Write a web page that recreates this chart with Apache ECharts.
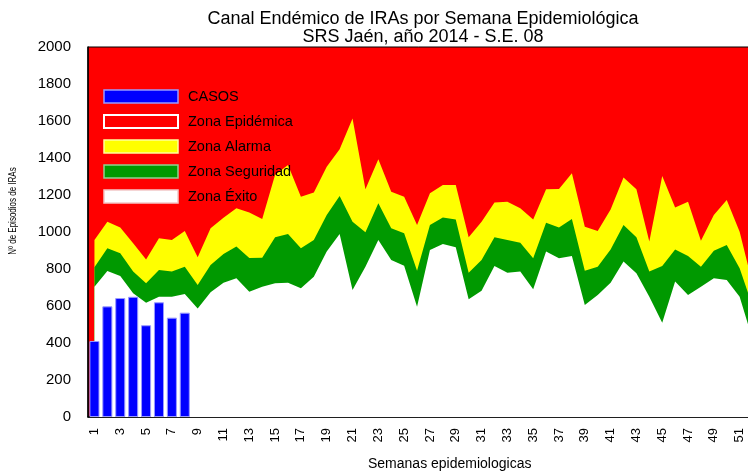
<!DOCTYPE html>
<html lang="es">
<head>
    <meta charset="UTF-8">
    <title>Canal Endémico de IRAs</title>
    <script src="https://cdn.jsdelivr.net/npm/echarts@6/dist/echarts.min.js"></script>
    <style>
        html, body { margin: 0; padding: 0; background: #fff; }
        #main { width: 748px; height: 471px; }
    </style>
</head>
<body>
<div id="main"></div>
<script type="text/javascript">
    // semanas epidemiologicas 1..52
    var semanas = ['1','2','3','4','5','6','7','8','9','10','11','12','13','14','15','16','17','18','19','20',
        '21','22','23','24','25','26','27','28','29','30','31','32','33','34','35','36','37','38','39','40',
        '41','42','43','44','45','46','47','48','49','50','51','52'];

    // casos observados (hasta S.E. 08)
    var casos = [411, 598, 643, 650, 496, 620, 537, 564];

    // limite superior de la zona de exito
    var zonaExito = [704, 789, 762, 669, 618, 650, 650, 665, 587, 674, 726, 750, 677, 704, 723, 726, 696, 758, 894, 989,
        686, 812, 957, 849, 818, 596, 903, 935, 917, 636, 683, 816, 780, 786, 690, 894, 858, 870, 605, 659,
        726, 840, 777, 650, 510, 732, 659, 704, 750, 741, 650, 420];

    // limite superior de la zona de seguridad
    var zonaSeguridad = [809, 912, 885, 786, 723, 795, 786, 812, 714, 822, 881, 921, 860, 861, 971, 989, 912, 957, 1092, 1195,
        1056, 998, 1155, 1020, 993, 790, 1038, 1079, 1068, 780, 849, 971, 957, 942, 858, 1050, 1025, 1070, 791, 812,
        906, 1038, 971, 786, 816, 906, 870, 812, 899, 930, 804, 600];

    // limite superior de la zona de alarma
    var zonaAlarma = [957, 1056, 1025, 939, 852, 966, 957, 1005, 863, 1020, 1077, 1128, 1105, 1070, 1310, 1362, 1191, 1213, 1353, 1447,
        1614, 1231, 1393, 1218, 1191, 1038, 1209, 1254, 1254, 971, 1056, 1159, 1164, 1128, 1068, 1231, 1232, 1317, 1029, 1005,
        1122, 1294, 1231, 948, 1303, 1133, 1164, 953, 1092, 1173, 1002, 720];

    var font = 'Arial, "Liberation Sans", sans-serif';

    var myChart = echarts.init(document.getElementById('main'));

    function zona(nombre, color, datos) {
        return {
            name: nombre,
            type: 'line',
            data: datos,
            color: color,
            symbol: 'none',
            smooth: false,
            z: 2,
            lineStyle: { width: 0 },
            areaStyle: { color: color, opacity: 1 },
            emphasis: { disabled: true }
        };
    }

    var option = {
        animation: false,
        backgroundColor: '#ffffff',
        title: {
            text: 'Canal Endémico de IRAs por Semana Epidemiológica\nSRS Jaén, año 2014 - S.E. 08',
            left: 418,
            top: 5,
            textAlign: 'center',
            textStyle: { fontFamily: font, fontSize: 18, fontWeight: 'normal', color: '#000', lineHeight: 18 }
        },
        legend: {
            orient: 'vertical',
            left: 98,
            top: 84,
            icon: 'rect',
            itemWidth: 74,
            itemHeight: 13,
            itemGap: 10,
            textStyle: { fontFamily: font, fontSize: 14.5, color: '#000', padding: [0, 0, 0, 5] },
            data: [
                { name: 'CASOS', itemStyle: { color: '#0000ff', borderColor: '#9a9aff', borderWidth: 1.5 } },
                { name: 'Zona Epidémica', itemStyle: { color: '#ff0000', borderColor: '#ffffff', borderWidth: 2 } },
                { name: 'Zona Alarma', itemStyle: { color: '#ffff00', borderColor: '#ffff9a', borderWidth: 1.5 } },
                { name: 'Zona Seguridad', itemStyle: { color: '#009900', borderColor: '#8fd18f', borderWidth: 1.5 } },
                { name: 'Zona Éxito', itemStyle: { color: '#ffffff', borderColor: '#f2c8c8', borderWidth: 1.5 } }
            ]
        },
        grid: {
            left: 88,
            top: 47,
            width: 671,
            height: 370,
            outerBoundsMode: 'none',
            containLabel: false,
            show: true,
            backgroundColor: '#ff0000',
            borderColor: '#000',
            borderWidth: 1
        },
        xAxis: {
            type: 'category',
            data: semanas,
            boundaryGap: true,
            axisLine: { lineStyle: { color: '#000', width: 1.5 } },
            axisTick: { show: false },
            axisLabel: { interval: 1, rotate: 90, margin: 11, fontFamily: font, fontSize: 13, color: '#000' },
            splitLine: { show: false }
        },
        yAxis: {
            type: 'value',
            min: 0,
            max: 2000,
            interval: 200,
            axisLine: { show: true, lineStyle: { color: '#000', width: 1.5 } },
            axisTick: { show: false },
            axisLabel: {
                margin: 17, fontFamily: font, fontSize: 15, color: '#000',
                formatter: function (v) { return String(v); }
            },
            splitLine: { show: false }
        },
        graphic: [
            {
                type: 'text',
                left: 368,
                top: 457,
                style: { text: 'Semanas epidemiologicas', fontFamily: font, fontSize: 14, fill: '#000' }
            },
            {
                // titulo del eje Y (la imagen original esta estirada en horizontal)
                type: 'text',
                x: 19,
                y: 211,
                rotation: Math.PI / 2,
                scaleY: 1.4,
                style: {
                    text: 'Nº de Episodios de IRAs',
                    fontFamily: font, fontSize: 8, fill: '#000',
                    align: 'center', verticalAlign: 'bottom'
                }
            }
        ],
        series: [
            { name: 'Zona Epidémica', type: 'line', data: [], color: '#ff0000', symbol: 'none', lineStyle: { width: 0 } },
            zona('Zona Alarma', '#ffff00', zonaAlarma),
            zona('Zona Seguridad', '#009900', zonaSeguridad),
            zona('Zona Éxito', '#ffffff', zonaExito),
            {
                name: 'CASOS',
                type: 'bar',
                data: casos,
                barWidth: '78%',
                z: 5,
                color: '#0000ff',
                itemStyle: { color: '#0000ff', borderColor: '#9a9aff', borderWidth: 1 },
                emphasis: { disabled: true }
            }
        ]
    };
    myChart.setOption(option);
</script>
</body>
</html>
